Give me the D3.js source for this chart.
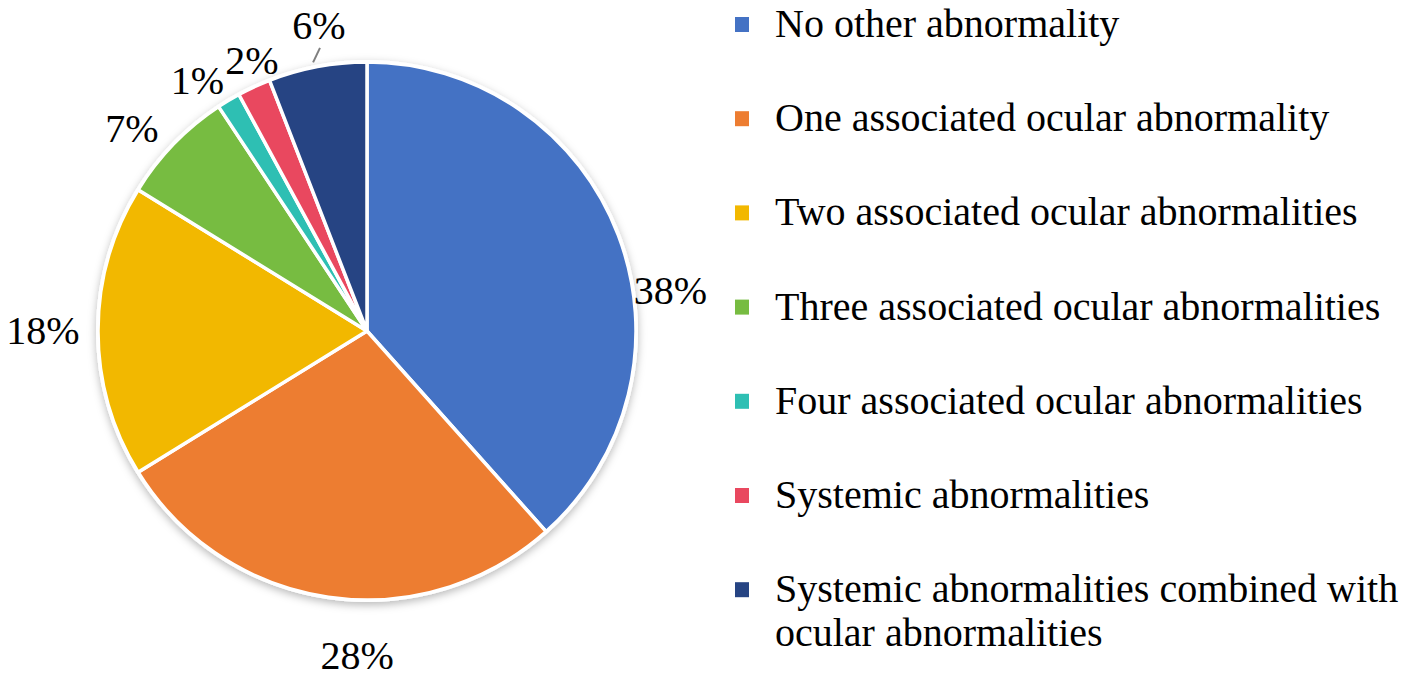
<!DOCTYPE html>
<html>
<head>
<meta charset="utf-8">
<script src="https://cdn.jsdelivr.net/npm/d3@7/dist/d3.min.js"></script>
<style>
  html, body { margin: 0; padding: 0; background: #ffffff; }
  svg { display: block; }
  text { font-family: "Liberation Serif", "Times New Roman", serif; fill: #000; }
</style>
</head>
<body>
<svg id="chart" width="1417" height="682"></svg>
<script>
// ---- data ----
const categories = [
  "No other abnormality",
  "One associated ocular abnormality",
  "Two associated ocular abnormalities",
  "Three associated ocular abnormalities",
  "Four associated ocular abnormalities",
  "Systemic abnormalities",
  "Systemic abnormalities combined with ocular abnormalities"
];
const values = [38.4, 27.8, 17.6, 6.9, 1.4, 2.0, 5.9];
const labels = ["38%", "28%", "18%", "7%", "1%", "2%", "6%"];
const colors = ["#4472C4", "#ED7D31", "#F2B800", "#77BC41", "#2EBFB3", "#E9485F", "#264483"];
// legend lines (wrapped as in the original)
const legendLines = [
  ["No other abnormality"],
  ["One associated ocular abnormality"],
  ["Two associated ocular abnormalities"],
  ["Three associated ocular abnormalities"],
  ["Four associated ocular abnormalities"],
  ["Systemic abnormalities"],
  ["Systemic abnormalities combined with", "ocular abnormalities"]
];

// ---- layout ----
const cx = 367, cy = 331, R = 269;
const labelR = 312;
const labelNudge = [[12, 70], [35, 15], [-12, -1], [-11, 14], [-9, 17], [16, 12], [9.5, 0.7]];

const svg = d3.select("#chart");
const defs = svg.append("defs");
const f = defs.append("filter").attr("id", "shadow")
  .attr("x", "-10%").attr("y", "-10%").attr("width", "120%").attr("height", "120%");
f.append("feDropShadow").attr("dx", 0).attr("dy", 3).attr("stdDeviation", 4)
  .attr("flood-color", "#000").attr("flood-opacity", 0.28);

const pie = d3.pie().sort(null).value(d => d)(values);
const arc = d3.arc().innerRadius(0).outerRadius(R);

const g = svg.append("g").attr("transform", `translate(${cx},${cy})`);

// white base disc with shadow (border ring)
g.append("circle").attr("r", R + 2).attr("fill", "#fff").attr("filter", "url(#shadow)");

g.selectAll("path.slice").data(pie).enter().append("path")
  .attr("class", "slice")
  .attr("d", arc)
  .attr("fill", (d, i) => colors[i])
  .attr("stroke", "#fff")
  .attr("stroke-width", 3.5)
  .attr("stroke-linejoin", "round");

// data labels
const labelPos = pie.map((d, i) => {
  const a = (d.startAngle + d.endAngle) / 2;
  return [labelR * Math.sin(a) + labelNudge[i][0], -labelR * Math.cos(a) + labelNudge[i][1]];
});
g.selectAll("text.lbl").data(pie).enter().append("text")
  .attr("class", "lbl")
  .attr("x", (d, i) => labelPos[i][0])
  .attr("y", (d, i) => labelPos[i][1])
  .attr("dy", "0.35em")
  .attr("text-anchor", "middle")
  .attr("font-size", 40)
  .text((d, i) => labels[i]);

// leader line for the last (6%) slice
{
  const d = pie[6];
  const mid = (d.startAngle + d.endAngle) / 2;
  const a1 = mid - 0.0127, a2 = mid + 0.0208;
  const r1 = R + 5, r2 = R + 18;
  g.append("line")
    .attr("x1", r1 * Math.sin(a1)).attr("y1", -r1 * Math.cos(a1))
    .attr("x2", r2 * Math.sin(a2)).attr("y2", -r2 * Math.cos(a2))
    .attr("stroke", "#7f7f7f").attr("stroke-width", 2);
}

// legend
const legendX = 735, legendY0 = 37, legendStep = 94.2, lineH = 44;
const lg = svg.append("g");
categories.forEach((c, i) => {
  const y = legendY0 + i * legendStep;
  lg.append("rect")
    .attr("x", legendX).attr("y", y - 20)
    .attr("width", 14).attr("height", 15)
    .attr("fill", colors[i]);
  legendLines[i].forEach((ln, j) => {
    lg.append("text")
      .attr("x", legendX + 40).attr("y", y + j * lineH)
      .attr("font-size", 40)
      .text(ln);
  });
});
</script>
</body>
</html>
